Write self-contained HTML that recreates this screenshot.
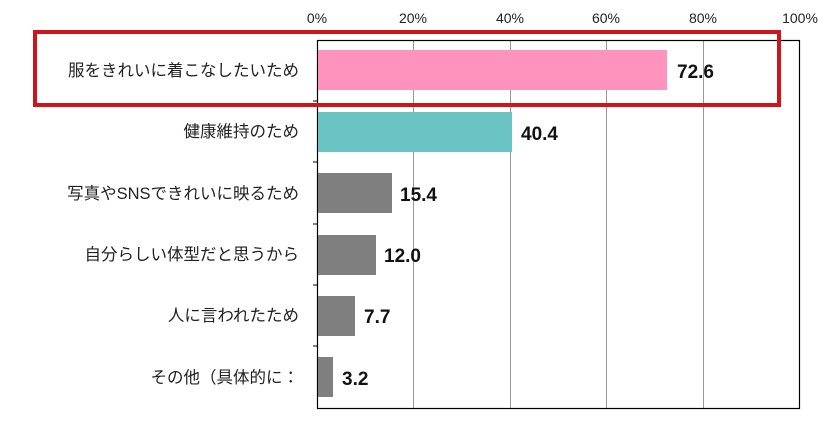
<!DOCTYPE html>
<html><head><meta charset="utf-8"><style>
body{margin:0;background:#fff;}
svg{display:block;font-family:"Liberation Sans","Noto Sans CJK JP",sans-serif;}
</style></head><body>
<svg width="829" height="431" viewBox="0 0 829 431">
<g stroke="#999" stroke-width="1">
<line x1="413.5" y1="40" x2="413.5" y2="408"/><line x1="510.5" y1="40" x2="510.5" y2="408"/>
<line x1="606.5" y1="40" x2="606.5" y2="408"/><line x1="703.5" y1="40" x2="703.5" y2="408"/>
</g>
<rect x="317.5" y="40.5" width="482" height="368" fill="none" stroke="#000" stroke-width="1.2"/>
<g stroke="#000"><line x1="313" y1="101" x2="317" y2="101"/><line x1="313" y1="162" x2="317" y2="162"/><line x1="313" y1="224" x2="317" y2="224"/><line x1="313" y1="285" x2="317" y2="285"/><line x1="313" y1="346" x2="317" y2="346"/></g>
<g font-size="14" fill="#222" text-anchor="middle">
<text x="317" y="23">0%</text><text x="413" y="23">20%</text><text x="510" y="23">40%</text><text x="606" y="23">60%</text><text x="703" y="23">80%</text><text x="800" y="23">100%</text>
</g>
<rect x="318" y="50" width="349" height="40" fill="#fe93bd"/>
<rect x="318" y="112" width="194" height="40" fill="#6bc3c4"/>
<rect x="318" y="173" width="74" height="40" fill="#7f7f7f"/>
<rect x="318" y="235" width="58" height="40" fill="#7f7f7f"/>
<rect x="318" y="296" width="37" height="40" fill="#7f7f7f"/>
<rect x="318" y="357" width="15" height="40" fill="#7f7f7f"/>
<g font-size="19" font-weight="bold" fill="#111">
<text x="677" y="78">72.6</text><text x="521" y="140">40.4</text><text x="400" y="201">15.4</text>
<text x="384" y="262">12.0</text><text x="364" y="323">7.7</text><text x="342" y="385">3.2</text>
</g>
<g font-size="16.5" fill="#222" text-anchor="end">
<text x="299" y="76">服をきれいに着こなしたいため</text>
<text x="299" y="137">健康維持のため</text>
<text x="299" y="199">写真やSNSできれいに映るため</text>
<text x="299" y="260">自分らしい体型だと思うから</text>
<text x="299" y="321">人に言われたため</text>
<text x="299" y="383">その他（具体的に：</text>
</g>
<rect x="35" y="32" width="744" height="73" fill="none" stroke="#d0141b" stroke-width="4"/>
</svg>
</body></html>
